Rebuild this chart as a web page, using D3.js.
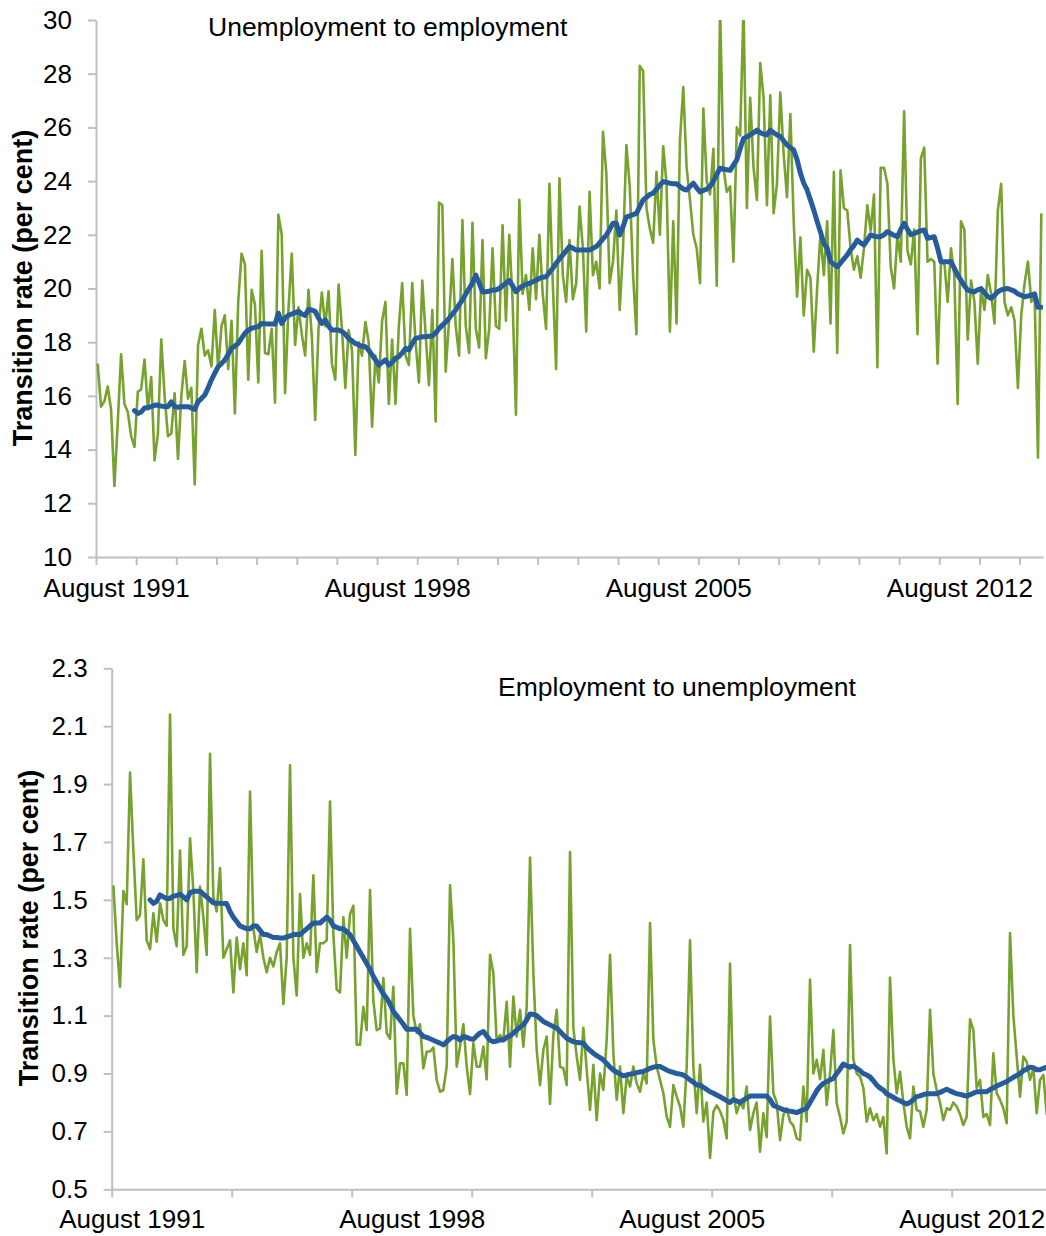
<!DOCTYPE html>
<html>
<head>
<meta charset="utf-8">
<script src="https://cdn.jsdelivr.net/npm/d3@7"></script>
<style>
  body { margin: 0; background: #fff; }
  svg { display: block; font-family: "Liberation Sans", Arial, sans-serif; }
</style>
</head>
<body>
<div id="container"></div>
<script>
// Months run from August 1991, one value per month
const monthCount = 283;
const trendStart = 11; // 12-month trend starts with the 12th month
const tickLabels = ["August 1991", "August 1998", "August 2005", "August 2012"];
const labelMonths = [0, 84, 168, 252];

// Unemployment to employment (per cent)
const ueFlow = [
  17.2, 15.6, 15.8, 16.35, 15.5, 12.65, 15.0, 17.55, 15.7, 15.4, 14.5, 14.1,
  16.15, 16.25, 17.35, 15.5, 16.7, 13.6, 14.6, 18.1, 16.0, 14.5, 14.6, 16.1,
  13.65, 16.0, 17.3, 15.9, 16.3, 12.7, 17.9, 18.5, 17.5, 17.7, 17.1, 19.2,
  17.0, 18.6, 19.0, 17.0, 18.8, 15.35, 19.5, 21.3, 20.9, 16.6, 19.95, 19.4,
  16.5, 21.4, 17.6, 17.55, 18.5, 15.75, 22.75, 22.0, 16.1, 19.2, 21.3, 17.9,
  19.3, 18.3, 17.5, 19.95, 18.2, 15.1, 18.5, 19.85, 18.6, 19.9, 17.2, 16.6,
  20.15, 18.5, 16.3, 18.45, 17.7, 13.8, 18.0, 17.5, 18.75, 18.0, 14.85, 17.5,
  16.5, 18.8, 19.5, 15.7, 18.1, 15.7, 18.6, 20.2, 17.5, 17.15, 20.2, 18.0,
  16.5, 20.3, 18.3, 16.4, 19.2, 15.05, 23.2, 23.1, 16.9, 18.8, 21.1, 18.6,
  17.5, 22.55, 18.6, 17.6, 22.45, 18.5, 17.8, 21.8, 17.4, 18.5, 21.5, 18.6,
  18.5, 22.35, 18.8, 22.0, 19.5, 15.3, 23.3, 19.8, 20.5, 19.2, 21.5, 19.6,
  22.0, 19.8, 18.5, 23.9, 20.2, 17.0, 24.1, 20.5, 19.5, 21.8, 19.6, 20.2,
  23.05, 21.5, 18.4, 23.6, 20.5, 21.0, 20.0, 25.84, 24.3, 20.2, 21.0, 22.9,
  19.2, 21.5, 25.34, 23.8, 20.5, 18.3, 28.29, 28.1, 23.0, 22.24, 21.7, 24.35,
  22.0, 25.3, 23.9, 18.4, 22.5, 18.7, 25.5, 27.5, 24.5, 23.3, 22.0, 21.5,
  20.2, 26.7, 24.0, 23.5, 25.2, 20.1, 30.5, 24.5, 23.6, 23.8, 21.0, 26.0,
  25.7, 30.5, 23.0, 27.1, 24.5, 23.3, 28.4, 27.1, 23.1, 27.2, 22.8, 23.9,
  27.3, 25.0, 23.4, 26.5, 22.5, 19.7, 21.9, 19.0, 20.7, 20.4, 17.65, 20.0,
  22.05, 20.5, 22.5, 18.7, 24.35, 17.6, 24.4, 23.0, 22.9, 21.5, 20.7, 21.2,
  20.4, 21.5, 23.1, 22.15, 23.5, 17.07, 24.5, 24.5, 23.9, 20.8, 20.0, 22.0,
  21.0, 26.6, 21.4, 20.9, 22.2, 18.3, 24.85, 25.25, 21.0, 21.1, 21.0, 17.2,
  20.9, 21.0, 19.5, 21.5, 20.5, 15.7, 22.5, 22.2, 18.1, 20.3, 19.5, 17.2,
  20.0, 19.2, 20.5, 19.8, 18.7, 22.9, 23.9, 19.5, 19.0, 19.3, 18.8, 16.3,
  19.0, 20.2, 21.0, 19.5, 19.8, 13.7, 22.8
];

const ueTrend = [
  15.45, 15.35, 15.4, 15.55, 15.57, 15.6, 15.65, 15.66, 15.62, 15.6, 15.6, 15.78,
  15.6, 15.58, 15.6, 15.6, 15.6, 15.55, 15.5, 15.78, 15.9, 16.03, 16.3, 16.6,
  16.85, 17.09, 17.2, 17.34, 17.55, 17.77, 17.85, 17.96, 18.15, 18.33, 18.45, 18.52,
  18.55, 18.58, 18.7, 18.69, 18.68, 18.68, 18.68, 19.08, 18.7, 18.9, 19.0, 19.05,
  19.1, 19.15, 19.05, 19.0, 19.22, 19.2, 19.15, 18.9, 18.7, 18.83, 18.6, 18.45,
  18.45, 18.45, 18.4, 18.3, 18.14, 18.05, 17.95, 17.9, 17.85, 17.83, 17.7, 17.52,
  17.35, 17.15, 17.25, 17.34, 17.15, 17.25, 17.4, 17.46, 17.6, 17.77, 17.71, 17.95,
  18.14, 18.17, 18.2, 18.2, 18.22, 18.23, 18.35, 18.5, 18.64, 18.75, 18.89, 19.05,
  19.2, 19.4, 19.57, 19.8, 20.0, 20.2, 20.5, 20.2, 19.88, 19.88, 19.9, 19.94,
  19.94, 20.0, 20.1, 20.2, 20.3, 20.1, 19.88, 20.0, 20.1, 20.15, 20.19, 20.25,
  20.3, 20.38, 20.42, 20.44, 20.6, 20.75, 20.94, 21.1, 21.25, 21.4, 21.56, 21.5,
  21.43, 21.43, 21.43, 21.43, 21.43, 21.5, 21.56, 21.7, 21.85, 21.99, 22.2, 22.43,
  22.43, 21.99, 22.3, 22.67, 22.7, 22.75, 22.8, 23.05, 23.3, 23.4, 23.5, 23.55,
  23.7, 23.85, 23.98, 23.95, 23.92, 23.9, 23.9, 23.8, 23.7, 23.67, 23.8, 23.92,
  23.75, 23.6, 23.65, 23.7, 23.8, 24.0, 24.25, 24.48, 24.45, 24.42, 24.4, 24.6,
  24.79, 25.2, 25.59, 25.65, 25.72, 25.8, 25.9, 25.8, 25.75, 25.72, 25.9, 25.8,
  25.72, 25.66, 25.5, 25.35, 25.25, 25.16, 24.8, 24.3, 23.92, 23.67, 23.3, 22.92,
  22.5, 22.1, 21.68, 21.5, 21.0, 20.9, 20.81, 20.95, 21.1, 21.25, 21.45, 21.6,
  21.8, 21.7, 21.62, 21.8, 22.0, 21.95, 21.93, 21.93, 22.0, 22.12, 22.05, 21.98,
  21.93, 22.2, 22.43, 22.2, 22.0, 22.05, 22.1, 22.15, 22.18, 21.87, 21.9, 21.93,
  21.5, 21.0, 21.0, 21.0, 21.0, 20.75, 20.5, 20.3, 20.1, 19.94, 19.9, 19.88,
  19.95, 20.0, 19.85, 19.7, 19.63, 19.75, 19.88, 19.95, 19.98, 20.0, 19.95, 19.9,
  19.8, 19.75, 19.69, 19.72, 19.75, 19.8, 19.3, 19.3
];

// Employment to unemployment (per cent)
const euFlow = [
  1.55, 1.35, 1.2, 1.53, 1.485, 1.94, 1.67, 1.43, 1.447, 1.64, 1.36, 1.33,
  1.454, 1.355, 1.488, 1.43, 1.41, 2.14, 1.4, 1.34, 1.67, 1.31, 1.34, 1.713,
  1.53, 1.25, 1.546, 1.44, 1.31, 2.005, 1.51, 1.46, 1.61, 1.3, 1.33, 1.36,
  1.18, 1.37, 1.26, 1.35, 1.24, 1.874, 1.4, 1.32, 1.38, 1.3, 1.25, 1.3,
  1.27, 1.32, 1.35, 1.14, 1.3, 1.965, 1.3, 1.17, 1.52, 1.3, 1.35, 1.31,
  1.585, 1.25, 1.35, 1.35, 1.36, 1.84, 1.38, 1.19, 1.18, 1.44, 1.3, 1.45,
  1.48, 1.0, 1.0, 1.13, 1.05, 1.534, 1.15, 1.05, 1.056, 1.23, 1.04, 1.02,
  1.2, 0.83, 0.935, 0.935, 0.826, 1.4, 1.1, 1.04, 1.07, 0.918, 0.976, 0.976,
  0.99, 0.878, 0.837, 0.843, 0.924, 1.55, 1.36, 0.924, 0.993, 1.07, 0.924, 0.829,
  1.005, 0.924, 0.924, 0.993, 0.88, 1.31, 1.246, 1.01, 1.033, 1.016, 1.148, 0.924,
  1.166, 1.028, 1.12, 0.993, 1.131, 1.646, 1.246, 0.982, 0.86, 0.982, 1.028, 0.795,
  1.033, 1.12, 0.924, 0.918, 0.86, 1.665, 1.056, 0.959, 0.878, 1.058, 0.913, 0.774,
  0.93, 0.739, 0.9, 0.843, 1.016, 1.31, 0.97, 0.809, 0.924, 0.763, 0.89, 0.855,
  0.924, 0.866, 0.837, 0.9, 0.866, 1.42, 1.016, 0.924, 0.878, 0.832, 0.751, 0.716,
  0.86, 0.82, 0.786, 0.716, 0.924, 1.36, 0.924, 0.763, 0.93, 0.734, 0.8, 0.608,
  0.768, 0.79, 0.77, 0.739, 0.676, 1.28, 0.83, 0.763, 0.8, 0.78, 0.855, 0.705,
  0.763, 0.8, 0.63, 0.763, 0.68, 1.097, 0.832, 0.8, 0.67, 0.757, 0.78, 0.734,
  0.72, 0.676, 0.67, 0.855, 0.734, 1.225, 0.9, 0.947, 0.88, 0.982, 0.791, 0.9,
  1.05, 0.797, 0.75, 0.693, 0.734, 1.344, 0.95, 0.9, 0.89, 0.85, 0.734, 0.78,
  0.739, 0.76, 0.716, 0.75, 0.624, 1.232, 0.95, 0.832, 0.906, 0.8, 0.716, 0.676,
  0.855, 0.774, 0.77, 0.716, 0.774, 1.12, 0.9, 0.843, 0.8, 0.739, 0.78, 0.774,
  0.8, 0.786, 0.76, 0.722, 0.75, 1.087, 1.05, 0.85, 0.878, 0.75, 0.76, 0.722,
  0.97, 0.832, 0.809, 0.78, 0.728, 1.385, 1.1, 0.959, 0.82, 0.959, 0.941, 0.878,
  0.918, 0.763, 0.878, 0.895, 0.76, 0.85, 0.9
];

const euTrend = [
  1.5, 1.488, 1.495, 1.517, 1.51, 1.505, 1.505, 1.513, 1.515, 1.52, 1.51, 1.5,
  1.525, 1.53, 1.53, 1.53, 1.52, 1.51, 1.5, 1.49, 1.488, 1.488, 1.487, 1.487,
  1.46, 1.44, 1.425, 1.41, 1.405, 1.4, 1.4, 1.41, 1.41, 1.395, 1.38, 1.38,
  1.375, 1.37, 1.37, 1.368, 1.368, 1.372, 1.375, 1.38, 1.38, 1.38, 1.39, 1.4,
  1.41, 1.42, 1.42, 1.42, 1.43, 1.44, 1.43, 1.41, 1.405, 1.4, 1.4, 1.39,
  1.38, 1.36, 1.34, 1.32, 1.3, 1.28, 1.26, 1.235, 1.215, 1.195, 1.175, 1.16,
  1.14, 1.114, 1.1, 1.085, 1.07, 1.053, 1.053, 1.053, 1.053, 1.04, 1.028, 1.025,
  1.02, 1.015, 1.01, 1.005, 0.999, 1.01, 1.02, 1.028, 1.025, 1.016, 1.028, 1.025,
  1.02, 1.018, 1.03, 1.04, 1.045, 1.03, 1.015, 1.01, 1.012, 1.016, 1.016, 1.025,
  1.03, 1.039, 1.05, 1.06, 1.068, 1.085, 1.106, 1.104, 1.1, 1.09, 1.08, 1.074,
  1.068, 1.062, 1.057, 1.045, 1.033, 1.022, 1.016, 1.01, 1.007, 1.006, 1.005, 0.99,
  0.98, 0.97, 0.962, 0.955, 0.947, 0.935, 0.922, 0.912, 0.905, 0.898, 0.892, 0.895,
  0.898, 0.9, 0.903, 0.905, 0.907, 0.912, 0.918, 0.922, 0.924, 0.924, 0.918, 0.912,
  0.907, 0.904, 0.9, 0.898, 0.895, 0.887, 0.878, 0.87, 0.86, 0.86, 0.852, 0.845,
  0.837, 0.832, 0.826, 0.82, 0.813, 0.806, 0.8, 0.81, 0.805, 0.8, 0.808, 0.815,
  0.822, 0.822, 0.822, 0.822, 0.822, 0.822, 0.81, 0.79, 0.785, 0.78, 0.775, 0.772,
  0.77, 0.768, 0.765, 0.77, 0.775, 0.78, 0.8, 0.82, 0.84, 0.855, 0.866, 0.872,
  0.878, 0.883, 0.9, 0.915, 0.933, 0.927, 0.922, 0.926, 0.918, 0.91, 0.9, 0.895,
  0.888, 0.875, 0.86, 0.85, 0.843, 0.83, 0.824, 0.818, 0.811, 0.806, 0.8, 0.795,
  0.8, 0.81, 0.82, 0.823, 0.827, 0.83, 0.83, 0.83, 0.83, 0.835, 0.84, 0.846,
  0.84, 0.835, 0.83, 0.828, 0.825, 0.822, 0.827, 0.832, 0.837, 0.837, 0.837, 0.837,
  0.845, 0.85, 0.857, 0.862, 0.867, 0.872, 0.88, 0.887, 0.893, 0.9, 0.91, 0.915,
  0.922, 0.92, 0.913, 0.913, 0.918, 0.922, 0.925, 0.928
];

const ueTicks = [10, 12, 14, 16, 18, 20, 22, 24, 26, 28, 30];
const euTicks = [0.5, 0.7, 0.9, 1.1, 1.3, 1.5, 1.7, 1.9, 2.1, 2.3];

// Constants
const width = 1046;
const height = 1236;
const green = "#77a22e";
const blue = "#265b9c";
const axisGrey = "#bfbfbf";

const svg = d3
  .select("#container")
  .append("svg")
  .attr("width", width)
  .attr("height", height);

const drawPanel = (p) => {
  const x = d3.scaleLinear().domain([0, monthCount]).range([p.left, p.right]);
  const y = d3.scaleLinear().domain(p.yDomain).range([p.bottom, p.top]);

  const g = svg.append("g");

  // clip so spikes above the top of the scale are cut off
  g.append("clipPath")
    .attr("id", p.id + "-clip")
    .append("rect")
    .attr("x", p.left)
    .attr("y", p.top)
    .attr("width", p.right - p.left)
    .attr("height", p.bottom - p.top + 20);

  // y axis
  const yAxis = d3
    .axisLeft(y)
    .tickValues(p.yTicks)
    .tickFormat(p.yFormat)
    .tickSize(8)
    .tickSizeOuter(0)
    .tickPadding(16);
  const yg = g.append("g").attr("transform", `translate(${p.left},0)`).call(yAxis);

  // x axis ticks (between months)
  const xAxis = d3
    .axisBottom(x)
    .tickValues(d3.range(0, monthCount + 1, p.tickEvery))
    .tickFormat("")
    .tickSize(8)
    .tickSizeOuter(0);
  const xg = g.append("g").attr("transform", `translate(0,${p.bottom})`).call(xAxis);

  // x labels, centred over the first half-year of each span
  const xLabels = d3
    .axisBottom(x)
    .tickValues(labelMonths.map((m) => m + 6))
    .tickFormat((d, i) => tickLabels[i])
    .tickSize(0);
  const lg = g.append("g").attr("transform", `translate(0,${p.bottom})`).call(xLabels);
  lg.select(".domain").remove();
  lg.selectAll("text").attr("y", p.labelGap).attr("dy", null);

  [yg, xg, lg].forEach((a) => {
    a.attr("font-family", null).attr("font-size", null);
    a.selectAll(".domain, .tick line").attr("stroke", axisGrey).attr("stroke-width", 2);
    a.selectAll("text").attr("fill", "#000").style("font-size", "26px");
  });

  // data lines
  const plot = g.append("g").attr("clip-path", `url(#${p.id}-clip)`);

  const flowLine = d3
    .line()
    .x((d, i) => x(i + 0.5))
    .y((d) => y(d));
  const trendLine = d3
    .line()
    .x((d, i) => x(i + trendStart + 0.5))
    .y((d) => y(d));

  plot.append("path")
    .datum(p.flow)
    .attr("d", flowLine)
    .attr("fill", "none")
    .attr("stroke", green)
    .attr("stroke-width", 2.6)
    .attr("stroke-linejoin", "round");

  plot.append("path")
    .datum(p.trend)
    .attr("d", trendLine)
    .attr("fill", "none")
    .attr("stroke", blue)
    .attr("stroke-width", 5)
    .attr("stroke-linejoin", "round")
    .attr("stroke-linecap", "round");

  // panel title
  g.append("text")
    .attr("x", p.titleX)
    .attr("y", p.titleY)
    .style("font-size", "26.5px")
    .text(p.title);

  // y axis title
  g.append("text")
    .attr("transform", `translate(${p.yTitleX},${p.yTitleY}) rotate(-90)`)
    .attr("text-anchor", "middle")
    .style("font-size", "27px")
    .style("font-weight", "bold")
    .text("Transition rate (per cent)");
};

drawPanel({
  id: "ue",
  left: 96,
  right: 1043,
  top: 20,
  bottom: 557,
  yDomain: [10, 30],
  yTicks: ueTicks,
  yFormat: d3.format("d"),
  tickEvery: 12,
  labelGap: 40,
  flow: ueFlow,
  trend: ueTrend,
  title: "Unemployment to employment",
  titleX: 208,
  titleY: 36,
  yTitleX: 32,
  yTitleY: 288,
});

drawPanel({
  id: "eu",
  left: 111.7,
  right: 111.7 + monthCount * 3.3333,
  top: 668.3,
  bottom: 1189.3,
  yDomain: [0.5, 2.3],
  yTicks: euTicks,
  yFormat: d3.format(".1f"),
  tickEvery: 36,
  labelGap: 39,
  flow: euFlow,
  trend: euTrend,
  title: "Employment to unemployment",
  titleX: 498,
  titleY: 696,
  yTitleX: 38,
  yTitleY: 928,
});
</script>
</body>
</html>
